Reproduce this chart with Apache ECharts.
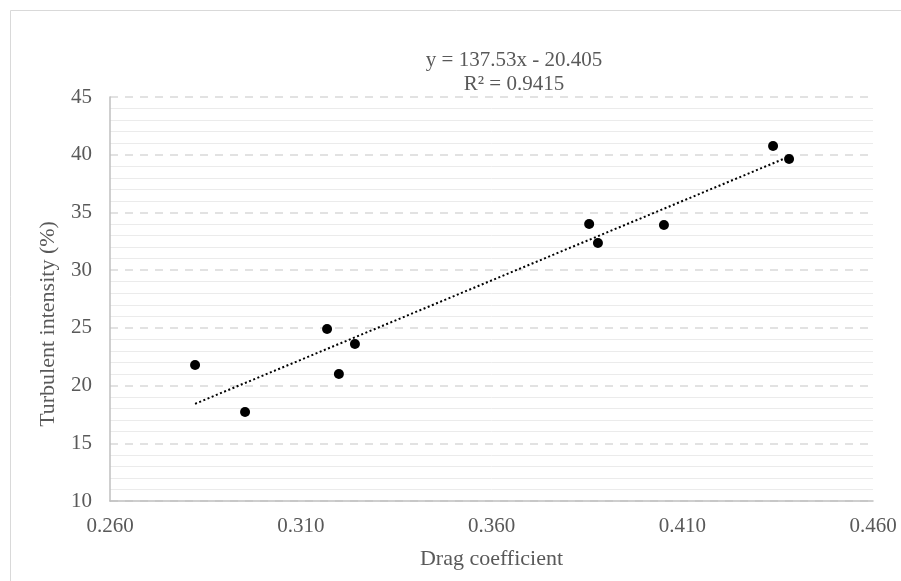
<!DOCTYPE html>
<html>
<head>
<meta charset="utf-8">
<script src="https://cdn.jsdelivr.net/npm/echarts@6/dist/echarts.min.js"></script>
<style>html,body{margin:0;padding:0;background:#fff;}#c{width:901px;height:581px;}</style>
</head>
<body>
<div id="c"></div>
<script>
// Data
const dragCoefficient = [0.2823, 0.2954, 0.3169, 0.3200, 0.3242, 0.3856, 0.3879, 0.4052, 0.4338, 0.4380];
const turbulentIntensity = [21.78, 17.71, 24.90, 21.00, 23.60, 34.00, 32.35, 33.91, 40.75, 39.63];
// Trendline as printed on the chart
const trendSlope = 137.53;
const trendIntercept = -20.405;
const trendLabel = ["y = 137.53x - 20.405", "R² = 0.9415"];
const xTitle = 'Drag coefficient';
const yTitle = 'Turbulent intensity (%)';
const xTicks = [0.26, 0.31, 0.36, 0.41, 0.46];
const yTicks = [10, 15, 20, 25, 30, 35, 40, 45];

const points = dragCoefficient.map((x, i) => [x, turbulentIntensity[i]]);
const xMin = Math.min(...dragCoefficient), xMax = Math.max(...dragCoefficient);
const trend = [[xMin, trendSlope * xMin + trendIntercept], [xMax, trendSlope * xMax + trendIntercept]];

const font = "'Liberation Serif', 'Times New Roman', serif";
const grey = '#595959';
const chart = echarts.init(document.getElementById('c'), null, {renderer: 'canvas'});
chart.setOption({
  animation: false,
  backgroundColor: '#ffffff',
  textStyle: {fontFamily: font},
  grid: {left: 110, right: 28, top: 97, bottom: 80, containLabel: false},
  graphic: [
    {type: 'rect', shape: {x: 10.5, y: 10.5, width: 920, height: 600}, style: {fill: 'none', stroke: '#d9d9d9', lineWidth: 1}, silent: true},
    {type: 'text', x: 514, y: 48, style: {text: trendLabel.join('\n'), font: "21px " + font, fill: grey, align: 'center', lineHeight: 24}, silent: true},
    {type: 'text', x: 48, y: 324, rotation: Math.PI / 2, style: {text: yTitle, font: "22px " + font, fill: grey, align: 'center', verticalAlign: 'middle'}, silent: true}
  ],
  xAxis: {
    type: 'value', min: xTicks[0], max: xTicks[xTicks.length - 1], interval: 0.05,
    name: xTitle, nameLocation: 'middle', nameGap: 47,
    nameTextStyle: {color: grey, fontSize: 22, fontFamily: font},
    axisLine: {show: true, lineStyle: {color: '#bfbfbf', width: 1.5}},
    axisTick: {show: false},
    axisLabel: {color: grey, fontSize: 21, fontFamily: font, margin: 15, formatter: v => v.toFixed(3)},
    splitLine: {show: false}
  },
  yAxis: {
    type: 'value', min: yTicks[0], max: yTicks[yTicks.length - 1], interval: 5,
    axisLine: {show: true, lineStyle: {color: '#bfbfbf', width: 1.5}},
    axisTick: {show: false},
    axisLabel: {color: grey, fontSize: 21, fontFamily: font, margin: 18},
    splitLine: {show: true, lineStyle: {color: '#d9d9d9', width: 1.5, type: [8, 7]}},
    minorTick: {show: false, splitNumber: 5},
    minorSplitLine: {show: true, lineStyle: {color: '#ebebeb', width: 1}}
  },
  series: [
    {type: 'line', data: trend, showSymbol: false, symbol: 'none', lineStyle: {color: '#000', width: 2, type: [2, 2.5]}, z: 3, silent: true},
    {type: 'scatter', data: points, symbol: 'circle', symbolSize: 10, itemStyle: {color: '#000', opacity: 1}, z: 4}
  ]
});
</script>
</body>
</html>
